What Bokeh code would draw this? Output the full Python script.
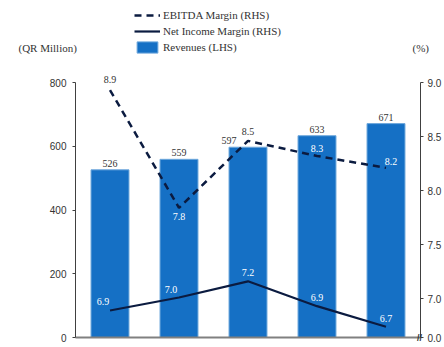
from bokeh.plotting import figure
from bokeh.models import (ColumnDataSource, Range1d, LinearAxis, FixedTicker,
                          PrintfTickFormatter, LabelSet, Label, Legend, LegendItem)
from bokeh.embed import file_html
from bokeh.resources import INLINE

# ---- data ----
years = ["2023", "2024e", "2025e", "2026e", "2027e"]
revenues = [526, 559, 597, 633, 671]
ebitda_margin = [8.93, 7.84, 8.46, 8.32, 8.21]
net_income_margin = [6.89, 7.01, 7.16, 6.93, 6.74]
rev_ticks = [0, 200, 400, 600, 800]
pct_ticks = [7.0, 7.5, 8.0, 8.5, 9.0]
pct_axis_start = 6.64
pct_start_label = "0.0"
series_names = ["EBITDA Margin (RHS)", "Net Income Margin (RHS)", "Revenues (LHS)"]
left_unit = "(QR Million)"
right_unit = "(%)"

# ---- styling / layout ----
BAR = "#1570C5"
NAVY = "#0B1B40"
YAXIS = "#404040"
XAXIS = "#808080"
TXT = "#333333"
SANS = "Liberation Sans"
SERIF = "Liberation Serif"

W, H = 444, 347
LPAD, RPAD = 75, 24          # px left / right of the plotting area
TPAD, BPAD = 82, 10          # px above the top tick / below the zero line
idx = [float(i) for i, _ in enumerate(years)]
x_lo, x_hi = idx[0] - 0.5, idx[-1] + 0.5
x_per_px = (x_hi - x_lo) / (W - LPAD - RPAD)

rev_lo, rev_hi = rev_ticks[0], rev_ticks[-1]
rev_per_px = (rev_hi - rev_lo) / (H - TPAD - BPAD)
pct_lo, pct_hi = pct_axis_start, pct_ticks[-1]
pct_per_px = (pct_hi - pct_lo) / (H - TPAD - BPAD)

p = figure(width=W, height=H,
           x_range=Range1d(x_lo - LPAD * x_per_px, x_hi + RPAD * x_per_px),
           y_range=Range1d(rev_lo - BPAD * rev_per_px, rev_hi + TPAD * rev_per_px),
           output_backend="svg", toolbar_location=None,
           x_axis_location=None, y_axis_location=None,
           min_border=0, min_border_left=0, min_border_right=0,
           min_border_top=0, min_border_bottom=0)
p.extra_y_ranges = {"pct": Range1d(pct_lo - BPAD * pct_per_px, pct_hi + TPAD * pct_per_px)}
p.xgrid.visible = False
p.ygrid.visible = False
p.outline_line_color = None

src = ColumnDataSource(dict(
    x=idx, rev=revenues, ebitda=ebitda_margin, net=net_income_margin,
    rev_txt=[str(v) for v in revenues],
    eb_txt=[f"{v:.1f}" for v in ebitda_margin],
    ni_txt=[f"{v:.1f}" for v in net_income_margin],
    rev_dx=[0, 0, -19, 0, 0],
    eb_dx=[0, 0, 0, 0, 5],
    eb_dy=[7, -12, 6, 4, 3],
    eb_col=[TXT, "white", TXT, "white", "white"],
    ni_dx=[-7, -8, 0, 0, 0],
))

bars = p.vbar(x="x", top="rev", width=0.55, source=src, fill_color=BAR,
              line_color="#6FA8DC", line_width=1)
eb = p.line(x="x", y="ebitda", source=src, y_range_name="pct", line_color=NAVY,
            line_width=2.5, line_dash="7 5")
ni = p.line(x="x", y="net", source=src, y_range_name="pct", line_color=NAVY,
            line_width=2.2)

# ---- axes ----
la = LinearAxis(fixed_location=x_lo, ticker=FixedTicker(ticks=rev_ticks),
                bounds=(rev_lo, rev_hi))
ra = LinearAxis(fixed_location=x_hi, y_range_name="pct",
                ticker=FixedTicker(ticks=[pct_axis_start] + pct_ticks),
                formatter=PrintfTickFormatter(format="%.1f"),
                major_label_overrides={pct_axis_start: pct_start_label},
                bounds=(pct_lo, pct_hi))
for ax, sto in [(la, 6), (ra, 4)]:
    ax.axis_line_color = YAXIS
    ax.major_tick_line_color = YAXIS
    ax.major_tick_in = 0
    ax.major_tick_out = 3
    ax.minor_tick_line_color = None
    ax.major_label_text_font = SANS
    ax.major_label_text_font_size = "10px"
    ax.major_label_text_color = TXT
    ax.major_label_standoff = sto
p.add_layout(la, "left")
p.add_layout(ra, "right")

xa = LinearAxis(fixed_location=rev_lo, ticker=FixedTicker(ticks=idx),
                major_label_overrides={i: y for i, y in zip(idx, years)},
                bounds=(x_lo, x_hi))
xa.axis_line_color = XAXIS
xa.axis_line_width = 2
xa.major_tick_line_color = None
xa.minor_tick_line_color = None
xa.major_label_text_font = SANS
xa.major_label_text_font_size = "10px"
xa.major_label_text_color = TXT
xa.major_label_standoff = 4
p.add_layout(xa, "below")

# ---- data labels ----
p.add_layout(LabelSet(x="x", y="rev", text="rev_txt", source=src, x_offset="rev_dx",
                      y_offset=3, text_align="center", text_baseline="bottom",
                      text_font=SANS, text_font_size="10px", text_color=TXT))
p.add_layout(LabelSet(x="x", y="ebitda", text="eb_txt", source=src, y_range_name="pct",
                      x_offset="eb_dx", y_offset="eb_dy", text_align="center",
                      text_baseline="bottom", text_font=SANS, text_font_size="10px",
                      text_color="eb_col"))
p.add_layout(LabelSet(x="x", y="net", text="ni_txt", source=src, y_range_name="pct",
                      x_offset="ni_dx", y_offset=5, text_align="center",
                      text_baseline="bottom", text_font=SANS, text_font_size="10px",
                      text_color="white"))

# axis break mark on the right axis
p.add_layout(Label(x=x_hi, y=pct_axis_start, y_range_name="pct", x_offset=-1,
                   text="//", text_font=SANS, text_font_size="9px", text_font_style="bold",
                   text_color=TXT, text_align="center", text_baseline="middle"))

# ---- legend and unit titles ----
legend = Legend(items=[LegendItem(label=series_names[0], renderers=[eb]),
                       LegendItem(label=series_names[1], renderers=[ni]),
                       LegendItem(label=series_names[2], renderers=[bars])],
                location=(134, H - 54), orientation="vertical",
                label_text_font=SERIF, label_text_font_size="11px", label_text_color=TXT,
                glyph_width=26, glyph_height=14, label_standoff=3, spacing=2,
                padding=0, margin=0, background_fill_alpha=0, border_line_alpha=0,
                label_height=14)
p.add_layout(legend, "center")
p.add_layout(Label(x=18, y=H - 47, x_units="screen", y_units="screen", text=left_unit,
                   text_font=SERIF, text_font_size="11px", text_color=TXT,
                   text_baseline="middle"))
p.add_layout(Label(x=412, y=H - 47, x_units="screen", y_units="screen", text=right_unit,
                   text_font=SERIF, text_font_size="11px", text_color=TXT,
                   text_baseline="middle"))

open("out.html", "w").write(file_html(p, INLINE))
